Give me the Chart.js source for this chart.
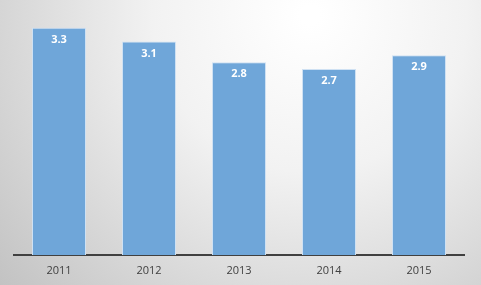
<!DOCTYPE html>
<html>
<head>
<meta charset="utf-8">
<script src="https://cdn.jsdelivr.net/npm/chart.js@4"></script>
<style>
  html, body { margin: 0; padding: 0; }
  #wrap { width: 481px; height: 285px; }
</style>
</head>
<body>
<div id="wrap"><canvas id="chart" width="481" height="285"></canvas></div>
<script>
const years = ["2011", "2012", "2013", "2014", "2015"];
const values = [3.3, 3.1, 2.8, 2.7, 2.9];

// radial grey background behind everything
const backdrop = {
  id: "backdrop",
  beforeDraw(chart) {
    const c = chart.ctx;
    const g = c.createRadialGradient(310, 15, 10, 310, 15, 430);
    g.addColorStop(0, "#ffffff");
    g.addColorStop(0.35, "#f2f2f2");
    g.addColorStop(1, "#bfbfbf");
    c.save();
    c.fillStyle = g;
    c.fillRect(0, 0, chart.width, chart.height);
    c.restore();
  },
};

// value labels inside the bars
const barLabels = {
  id: "barLabels",
  afterDatasetsDraw(chart) {
    const c = chart.ctx;
    c.save();
    c.fillStyle = "#ffffff";
    c.font = "bold 11px 'Open Sans', sans-serif";
    c.textAlign = "center";
    c.textBaseline = "middle";
    chart.getDatasetMeta(0).data.forEach((bar, i) => {
      c.fillText(values[i].toFixed(1), bar.x, bar.y + 12);
    });
    c.restore();
  },
};

new Chart(document.getElementById("chart"), {
  type: "bar",
  data: {
    labels: years,
    datasets: [
      {
        data: values,
        backgroundColor: "#6fa6d9",
        borderColor: "#cfe1f3",
        borderWidth: 1,
        barPercentage: 0.6,
        categoryPercentage: 1,
      },
    ],
  },
  options: {
    responsive: false,
    animation: false,
    layout: { padding: { left: 14, right: 17, top: 14, bottom: 0 } },
    plugins: {
      legend: { display: false },
      tooltip: { enabled: false },
    },
    scales: {
      x: {
        grid: { display: false, drawTicks: false },
        border: { display: true, color: "#404040", width: 2 },
        ticks: {
          color: "#404040",
          padding: 9,
          font: { family: "'Open Sans', sans-serif", size: 11 },
        },
        afterFit(scale) {
          scale.height = 30;
        },
      },
      y: {
        display: false,
        min: 0,
        max: 3.5,
      },
    },
  },
  plugins: [backdrop, barLabels],
});
</script>
</body>
</html>
